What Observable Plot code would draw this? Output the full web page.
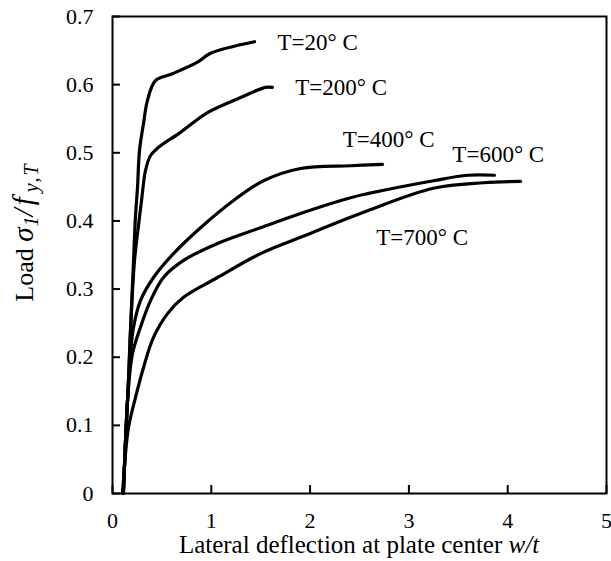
<!DOCTYPE html>
<html>
<head>
<meta charset="utf-8">
<script src="https://cdn.jsdelivr.net/npm/d3@7"></script>
<script src="https://cdn.jsdelivr.net/npm/@observablehq/plot@0.6"></script>
<style>
  body { margin: 0; background: #fff; }
  #chart svg, #chart svg text { font-family: "Liberation Serif", "Times New Roman", serif !important; }
</style>
</head>
<body>
<div id="chart"></div>
<script>
// Curve data: [w/t, sigma1/fy,T]
const t20 = [[0.11,0],[0.132,0.078],[0.162,0.166],[0.182,0.239],[0.213,0.342],[0.233,0.408],[0.253,0.449],[0.273,0.503],[0.314,0.543],[0.354,0.577],[0.435,0.606],[0.607,0.616],[0.86,0.633],[0.992,0.646],[1.437,0.663]];
const t200 = [[0.11,0],[0.132,0.078],[0.162,0.166],[0.182,0.239],[0.223,0.342],[0.263,0.393],[0.294,0.43],[0.334,0.474],[0.385,0.496],[0.466,0.508],[0.688,0.53],[0.962,0.559],[1.296,0.581],[1.549,0.596],[1.619,0.596]];
const t400 = [[0.11,0],[0.132,0.078],[0.152,0.136],[0.182,0.205],[0.213,0.244],[0.283,0.283],[0.415,0.317],[0.617,0.352],[0.891,0.39],[1.225,0.43],[1.528,0.459],[1.903,0.477],[2.409,0.481],[2.733,0.483]];
const t600 = [[0.11,0],[0.132,0.078],[0.152,0.136],[0.202,0.205],[0.283,0.244],[0.385,0.283],[0.516,0.317],[0.719,0.342],[1.063,0.367],[1.498,0.39],[1.903,0.411],[2.409,0.434],[2.581,0.44],[3.249,0.459],[3.593,0.467],[3.866,0.467]];
const t700 = [[0.1,0],[0.111,0.019],[0.132,0.059],[0.162,0.097],[0.233,0.141],[0.314,0.185],[0.415,0.229],[0.557,0.264],[0.719,0.288],[1.063,0.317],[1.498,0.352],[1.903,0.376],[2.581,0.415],[3.249,0.448],[3.755,0.456],[4.13,0.458]];

const seriesNames = ["T=20° C","T=200° C","T=400° C","T=600° C","T=700° C"];
const seriesData = [t20, t200, t400, t600, t700];
// label anchor positions in data units
const labelX = [1.67, 1.85, 2.33, 3.44, 2.67];
const labelY = [0.662, 0.596, 0.52, 0.497, 0.376];

const xTicks = [0,1,2,3,4,5];
const yTicks = [0,0.1,0.2,0.3,0.4,0.5,0.6,0.7];

const rows = seriesData.flatMap((d, i) => d.map(([x, y]) => ({series: seriesNames[i], x, y})));
const labels = seriesNames.map((s, i) => ({text: s, x: labelX[i], y: labelY[i]}));

const W = 611, H = 561;
const plot = Plot.plot({
  width: W, height: H,
  marginLeft: 112, marginRight: 5, marginTop: 16, marginBottom: 68,
  style: {fontFamily: "'Liberation Serif', 'Times New Roman', serif", fontSize: "22px", background: "#fff", color: "#000"},
  x: {domain: [0,5], ticks: xTicks},
  y: {domain: [0,0.7], ticks: yTicks},
  marks: [
    Plot.axisX({ticks: xTicks, tickSize: 0, tickPadding: 19, fontSize: 22, label: null, tickFormat: d => String(d)}),
    Plot.axisX({ticks: xTicks, tickSize: -8, tickFormat: () => "", label: null, strokeWidth: 2}),
    Plot.axisY({ticks: yTicks, tickSize: 0, tickPadding: 19, fontSize: 22, label: null, tickFormat: d => String(d)}),
    Plot.axisY({ticks: yTicks, tickSize: -8, tickFormat: () => "", label: null, strokeWidth: 2}),
    Plot.line(rows, {x: "x", y: "y", z: "series", stroke: "#000", strokeWidth: 3.2, curve: "catmull-rom"}),
    Plot.text(labels, {x: "x", y: "y", text: "text", textAnchor: "start", fontSize: 23, fill: "#000"}),
    Plot.frame({stroke: "#000", strokeWidth: 2})
  ]
});
document.getElementById("chart").appendChild(plot);

const svg = d3.select(plot);
// x-axis title
const xt = svg.append("text")
  .attr("x", (112 + 606) / 2).attr("y", 553)
  .attr("text-anchor", "middle").attr("font-size", 25).attr("fill", "#000");
xt.append("tspan").text("Lateral deflection at plate center ");
xt.append("tspan").attr("font-style", "italic").text("w/t");

// y-axis title
const yt = svg.append("text")
  .attr("transform", "translate(33,232) rotate(-90)")
  .attr("text-anchor", "middle").attr("font-size", 26).attr("fill", "#000");
yt.append("tspan").text("Load ");
yt.append("tspan").attr("font-style", "italic").attr("font-size", 29).text("σ");
yt.append("tspan").attr("font-style", "italic").attr("font-size", 20).attr("dy", 5).attr("dx", 1).text("1");
yt.append("tspan").attr("font-style", "italic").attr("font-size", 29).attr("dy", -5).attr("letter-spacing", 3).text("/f");
yt.append("tspan").attr("font-style", "italic").attr("font-size", 20).attr("dy", 5).attr("dx", 2).attr("letter-spacing", 2).text("y,T");
</script>
</body>
</html>
